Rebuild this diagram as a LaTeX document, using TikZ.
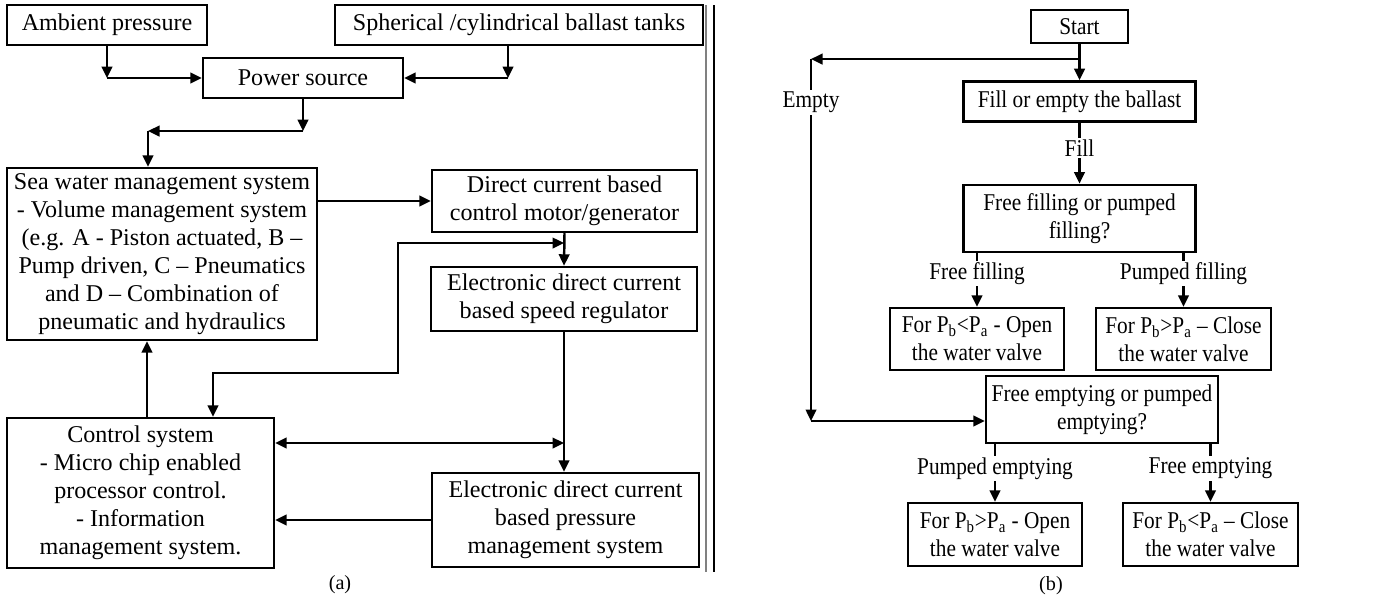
\documentclass[tikz,border=0pt]{standalone}
\usepackage{fontspec}
\setmainfont{Liberation Serif}
\newfontfamily\narrowserif[FakeStretch=0.885]{Liberation Serif}
\usetikzlibrary{arrows.meta, positioning}

\begin{document}
\begin{tikzpicture}[x=0.02cm, y=-0.02cm,
    block/.style={rectangle, draw=black, line width=1.4pt, align=center,
                  inner sep=1pt, font=\fontsize{13.7}{15.9}\selectfont},
    process/.style={rectangle, draw=black, line width=1.4pt, align=center,
                    inner sep=1pt, font=\narrowserif\fontsize{13.7}{15.9}\selectfont},
    branch/.style={fill=white, inner sep=1pt, font=\narrowserif\fontsize{13.7}{15.9}\selectfont},
    arrow/.style={-{Triangle[length=2.3mm, width=2.1mm]}, line width=1.4pt},
    dblarrow/.style={{Triangle[length=2.3mm, width=2.1mm]}-{Triangle[length=2.3mm, width=2.1mm]}, line width=1.4pt},
    caption/.style={font=\fontsize{11.5}{13}\selectfont}
]
\useasboundingbox (0,0) rectangle (1381,600);

\node (amb)   [block, minimum width=4cm, minimum height=0.8cm] at (107,25) {Ambient pressure};
\node (tank)  [block, minimum width=7.36cm, minimum height=0.8cm] at (519,25) {Spherical /cylindrical ballast tanks};
\node (pwr)   [block, minimum width=4cm, minimum height=0.8cm] at (303,78) {Power source};
\node (sea)   [block, minimum width=6.2cm, minimum height=3.44cm] at (162,254)
              {Sea water management system\\ - Volume management system\\ (e.g. A - Piston actuated, B –\\ Pump driven, C – Pneumatics\\ and D – Combination of\\ pneumatic and hydraulics};
\node (motor) [block, minimum width=5.3cm, minimum height=1.24cm] at (564.5,201) {Direct current based\\ control motor/generator};
\node (speed) [block, minimum width=5.32cm, minimum height=1.28cm] at (564,299) {Electronic direct current\\ based speed regulator};
\node (press) [block, minimum width=5.34cm, minimum height=1.88cm] at (565.5,520) {Electronic direct current\\ based pressure\\ management system};
\node (ctrl)  [block, minimum width=5.34cm, minimum height=3cm] at (140.5,493)
              {Control system\\ - Micro chip enabled\\ processor control.\\ - Information\\ management system.};
\node (capa)  [caption] at (340,585) {(a)};

\coordinate (ambc)  at (amb.south |- pwr.west);
\coordinate (tankc) at (508,78);
\coordinate (pwrc)  at (pwr.south |- 0,131);
\coordinate (seac)  at (148,131);
\coordinate (msc)   at (564,243);
\coordinate (bendc) at (398,373);
\coordinate (ctlc)  at (213,373);
\coordinate (spc)   at (564,443);
\coordinate (upc)   at (147,418);

\draw [arrow] (amb.south) -- (ambc);
\draw [arrow] (ambc) -- (pwr.west);
\draw [arrow] (tankc |- tank.south) -- (tankc);
\draw [arrow] (tankc) -- (pwr.east);
\draw [arrow] (pwr.south) -- (pwrc);
\draw [arrow] (pwrc) -- (seac);
\draw [arrow] (seac) -- (seac |- sea.north);
\draw [arrow] (sea.east |- motor.west) -- (motor.west);
\draw [arrow] (motor.south) -- (speed.north);
\draw [dblarrow] (ctlc |- ctrl.north) -- (ctlc) -- (bendc) |- (msc);
\draw [arrow] (speed.south) -- (speed.south |- press.north);
\draw [dblarrow] (ctrl.east |- spc) -- (spc);
\draw [arrow] (press.west) -- (press.west -| ctrl.east);
\draw [arrow] (upc) -- (upc |- sea.south);

\draw [gray, line width=1.3pt] (706,5) -- (706,572);
\draw [line width=0.9pt] (714,5) -- (714,572);

\node (start) [process, minimum width=1.94cm, minimum height=0.66cm] at (1079.5,26.5) {Start};
\node (fill)  [process, below=0.72cm of start, minimum width=4.64cm, minimum height=0.8cm] {Fill or empty the ballast};
\node (ffq)   [process, below=1.22cm of fill, minimum width=4.64cm, minimum height=1.34cm] {Free filling or pumped\\ filling?};
\node (ffree) [process, minimum width=3.48cm, minimum height=1.24cm] at (977,339) {For P\textsubscript{b}<P\textsubscript{a} - Open\\ the water valve};
\node (fpump) [process, minimum width=3.5cm, minimum height=1.24cm] at (1183.5,339) {For P\textsubscript{b}>P\textsubscript{a} – Close\\ the water valve};
\node (efq)   [process, minimum width=4.64cm, minimum height=1.34cm] at (1102,409.5) {Free emptying or pumped\\ emptying?};
\node (epump) [process, minimum width=3.48cm, minimum height=1.26cm] at (995,534.5) {For P\textsubscript{b}>P\textsubscript{a} - Open\\ the water valve};
\node (efree) [process, minimum width=3.5cm, minimum height=1.26cm] at (1210.5,534.5) {For P\textsubscript{b}<P\textsubscript{a} – Close\\ the water valve};
\node (capb)  [caption] at (1051,586) {(b)};

\coordinate (stc) at (start.south |- 0,59);
\coordinate (lc)  at (811,59);
\coordinate (dc)  at (811,421);

\draw [arrow] (start.south) -- (fill.north);
\draw [arrow] (stc) -- (lc);
\draw [arrow] (lc) -- node[branch, pos=0.12]{Empty} (dc);
\draw [arrow] (dc) -- (dc -| efq.west);
\draw [arrow] (fill.south) -- node[branch, pos=0.42]{Fill} (ffq.north);
\draw [arrow] (ffree.north |- ffq.south) -- node[branch, pos=0.38]{Free filling} (ffree.north);
\draw [arrow] (fpump.north |- ffq.south) -- node[branch, pos=0.38]{Pumped filling} (fpump.north);
\draw [arrow] (epump.north |- efq.south) -- node[branch, pos=0.42]{Pumped emptying} (epump.north);
\draw [arrow] (efree.north |- efq.south) -- node[branch, pos=0.42]{Free emptying} (efree.north);
\end{tikzpicture}
\end{document}
